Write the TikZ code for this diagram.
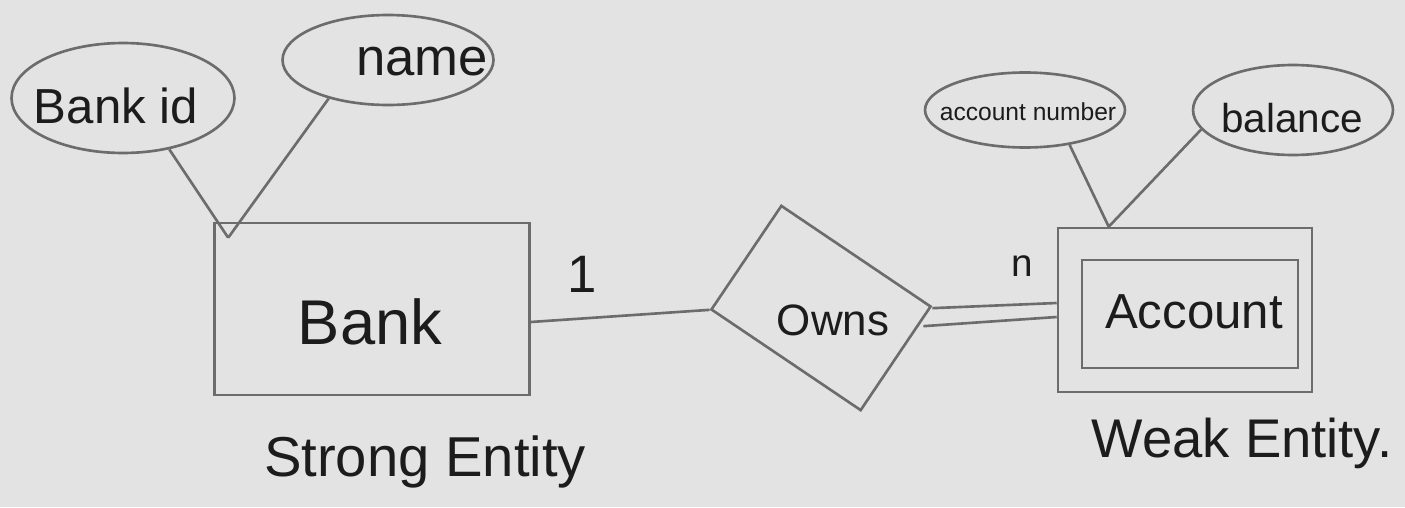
\documentclass[tikz,border=0pt]{standalone}
\usepackage{fontspec}
\setmainfont{Liberation Sans}
\usetikzlibrary{shapes.geometric,calc}
\definecolor{paper}{HTML}{E3E3E3}
\definecolor{pencil}{HTML}{6C6C6C}
\definecolor{ink}{HTML}{1C1C1C}
\newcommand{\fs}[1]{\fontsize{#1}{1.2\dimexpr#1pt\relax}\selectfont}
\begin{document}
\begin{tikzpicture}[x=0.02cm,y=-0.02cm,
  pen/.style={draw=pencil,line width=1.5pt},
  attr/.style={pen,ellipse,inner sep=0pt},
  ent/.style={pen,rectangle,inner sep=0pt},
  lbl/.style={text=ink,inner sep=0pt},
  link/.style={pencil,line width=1.5pt}]
\fill[paper] (0,0) rectangle (1405,507);
\useasboundingbox (0,0) rectangle (1405,507);

% entities
\node[ent,minimum width=6.3cm,minimum height=3.44cm] (bank) at (372,309) {};
\node[lbl,font=\fs{36}] (bankT) at (370,322) {Bank};
\node[ent,minimum width=5.08cm,minimum height=3.28cm] (accO) at (1185,310) {};
\node[ent,minimum width=4.32cm,minimum height=2.16cm] (accI) at (1190,314) {};
\node[lbl,font=\fs{28}] (accT) at (1194,312) {Account};

% relationship
\node[pen,rectangle,minimum width=3.6cm,minimum height=2.5cm,rotate=-34] (owns) at (821,308) {};
\node[lbl,font=\fs{25}] (ownsT) at (833,320) {Owns};

% attributes
\node[attr,minimum width=4.46cm,minimum height=2.2cm] (bankid) at (123,98) {};
\node[lbl,font=\fs{28}] (bankidT) at (116,106) {Bank id};
\node[attr,minimum width=4.22cm,minimum height=1.8cm] (name) at (388,60) {};
\node[lbl,font=\fs{30}] (nameT) at (422,62) {name};
\node[attr,minimum width=4cm,minimum height=1.5cm] (accnum) at (1025,110) {};
\node[lbl,font=\fs{14}] (accnumT) at (1028,112) {account number};
\node[attr,minimum width=4cm,minimum height=1.8cm] (bal) at (1293,110) {};
\node[lbl,font=\fs{23}] (balT) at (1292,118) {balance};

% junctions
\coordinate (bj) at ($(bank.north west)+(15,16)$);
\coordinate (aj) at ($(accO.north west)+(52,0)$);

% connectors
\draw[link] (bankid.-48) -- (bj);
\draw[link] (name.-147) -- (bj);
\draw[link] (accnum.-38) -- (aj);
\draw[link] (bal.-168) -- (aj);
\draw[link] ($(bank.east)+(0,13)$) -- (owns.south west);
\draw[link] ($(owns.north east)+(0,2)$) -- ($(accO.west)+(0,-7)$);
\draw[link] ($(owns.north east)+(-9,20)$) -- ($(accO.west)+(0,7)$);

% cardinalities and captions
\node[lbl,font=\fs{30}] (one) at (582,274) {1};
\node[lbl,font=\fs{22}] (nn) at (1022,266) {n};
\node[lbl,font=\fs{32}] (strong) at (425,462) {Strong Entity};
\node[lbl,font=\fs{31}] (weak) at (1242,443) {Weak Entity.};
\end{tikzpicture}
\end{document}
